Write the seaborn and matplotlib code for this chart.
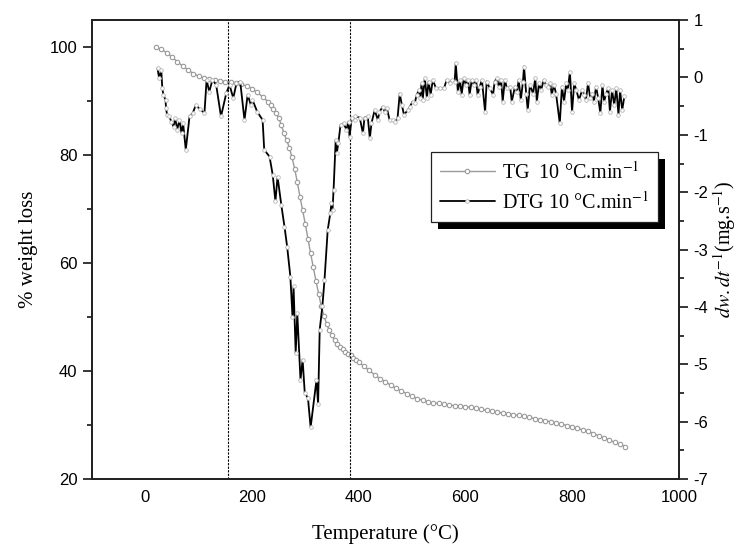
import numpy as np
import pandas as pd
import seaborn as sns
import matplotlib
matplotlib.use('Agg')
import matplotlib.pyplot as plt
from matplotlib.patches import Rectangle
from matplotlib.transforms import IdentityTransform
from matplotlib.ticker import MultipleLocator

# --- TG data (% weight loss) ---
tg_temp = list(range(20, 231, 10)) + list(range(235, 401, 5)) + list(range(410, 901, 10))
tg_loss = [100.0, 99.6, 99.0, 98.2, 97.3, 96.5, 95.8, 95.1, 94.6, 94.3, 94.1,
           93.9, 93.8, 93.6, 93.5, 93.3, 93.1, 92.8, 92.3, 91.6, 90.8, 89.9,
           89.3, 88.5, 87.8, 86.9, 85.6, 84.0, 82.8, 81.4, 79.6, 77.5, 75.0,
           72.3, 69.8, 67.2, 64.5, 61.8, 59.2, 56.7, 54.3, 52.0, 50.2, 48.7,
           47.6, 46.6, 45.8, 45.0, 44.5, 44.0, 43.6, 43.2, 42.9, 42.5, 42.0, 41.6,
           40.9, 40.1, 39.3, 38.6, 38.0, 37.4, 36.8, 36.3, 35.8, 35.3,
           34.9, 34.6, 34.3, 34.1, 34.0, 33.8, 33.7, 33.6, 33.5, 33.4,
           33.3, 33.1, 32.9, 32.7, 32.6, 32.4, 32.2, 32.1, 31.9, 31.8,
           31.6, 31.4, 31.2, 31.0, 30.8, 30.6, 30.4, 30.2, 29.9, 29.7,
           29.4, 29.1, 28.8, 28.4, 28.0, 27.6, 27.2, 26.8, 26.4, 26.0]

# --- DTG data (mg/s) ---
dtg_temp = [23, 26, 30, 32, 34, 38, 39, 41, 45, 49, 53, 56, 60, 64, 68, 71, 76, 83, 89, 95,
            102, 111, 115, 120, 126, 133, 142, 152, 158, 165, 171, 178, 186, 192, 198,
            201, 210, 220, 223, 233, 239, 244, 248, 255, 261, 266, 272, 276, 278, 282,
            285, 291, 295, 299, 305, 310, 321, 324, 327, 332, 336, 342, 347, 349, 351,
            353, 357, 359, 362, 366, 372, 377, 381, 383, 387, 393,
            394, 402, 408, 411, 417, 421, 424, 430, 436, 439, 445, 449, 453, 458, 464,
            469, 473, 477, 481, 485, 492, 496, 501, 505, 509, 513, 515, 518, 520, 524,
            528, 531, 535, 539, 545, 552, 560, 565, 571, 575, 580, 582, 586, 590, 593,
            597, 601, 605, 608, 612, 616, 620, 623,
            627, 631, 637, 640, 646, 652, 655, 659, 663, 667, 670, 674, 678, 684, 687,
            693, 697, 700, 704, 708, 710, 714, 717, 721, 727, 731, 734, 738, 742, 747,
            751, 755, 759, 762, 766, 770, 777, 781, 785, 789, 792, 796, 800, 804, 808,
            813, 819, 823, 826, 830, 834, 838, 841, 845, 849, 853, 857, 860, 864, 868,
            871, 875, 879, 883, 887, 890, 894, 898]
dtg_rate = [0.16, -0.01, 0.13, -0.19, -0.30, -0.39, -0.54, -0.65, -0.68, -0.77, -0.86, -0.71,
            -0.91, -0.74, -0.97, -0.80, -1.26, -0.68, -0.62, -0.48, -0.55, -0.62, -0.04,
            -0.25, -0.04, -0.13, -0.68, -0.27, -0.13, -0.36, -0.10, -0.07, -0.74, -0.30, -0.48,
            -0.39, -0.60, -0.74, -1.26, -1.38, -1.70, -2.16, -1.73, -2.22, -2.60, -2.95,
            -3.47, -4.17, -3.64, -4.80, -4.11, -5.27, -4.92, -5.50, -5.59, -6.10, -5.27,
            -5.70, -4.40, -3.99, -3.53, -2.66, -2.36, -2.19, -2.31, -1.96, -1.09, -1.32,
            -1.14, -0.83, -0.80, -0.91, -0.77, -1.03, -0.71, -0.74,
            -0.68, -0.70, -0.97, -0.70, -0.68, -1.06, -0.80, -0.57, -0.74, -0.60, -0.51,
            -0.60, -0.54, -0.74, -0.74, -0.77, -0.70, -0.28, -0.48, -0.65, -0.57, -0.51,
            -0.42, -0.45, -0.30, -0.22, -0.36, -0.10, -0.39, -0.01, -0.36, -0.07, -0.30,
            -0.04, -0.19, -0.19, -0.19, -0.04, -0.10, -0.04, -0.07, 0.25, -0.25, -0.04,
            -0.30, -0.01, -0.13, -0.04, -0.30, -0.04, -0.13, -0.04, -0.30,
            -0.16, -0.04, -0.60, -0.07, -0.19, -0.30, -0.07, -0.01, -0.16, -0.04, -0.42,
            -0.04, -0.19, -0.16, -0.42, -0.16, -0.25, -0.04, -0.39, -0.07, 0.19, -0.28,
            -0.57, -0.13, -0.28, -0.01, -0.42, -0.10, -0.22, -0.04, -0.13, -0.16, -0.10,
            -0.30, -0.13, -0.28, -0.80, -0.16, -0.42, -0.10, -0.22, 0.10, -0.60, -0.10,
            -0.22, -0.39, -0.22, -0.30, -0.39, -0.10, -0.36, -0.28, -0.42, -0.16, -0.36,
            -0.62, -0.13, -0.42, -0.28, -0.19, -0.60, -0.22, -0.48, -0.19, -0.65, -0.22,
            -0.57, -0.33]

# stage boundaries (dashed lines)
stage_temps = [155, 383]

x_ticks = [0, 200, 400, 600, 800, 1000]
tg_label = 'TG  10 °C.min$^{-1}$'
dtg_label = 'DTG 10 °C.min$^{-1}$'

# --- style ---
sns.set_style('ticks')
plt.rcParams['font.family'] = ['Liberation Sans', 'DejaVu Sans']
plt.rcParams['mathtext.fontset'] = 'stix'
plt.rcParams['axes.unicode_minus'] = False
plt.rcParams['text.color'] = 'black'
plt.rcParams['axes.labelcolor'] = 'black'
plt.rcParams['xtick.color'] = 'black'
plt.rcParams['ytick.color'] = 'black'
serif = ['Liberation Serif', 'DejaVu Serif']

fig, ax = plt.subplots(figsize=(7.41, 5.44), dpi=100)
fig.subplots_adjust(left=0.124, right=0.916, top=0.963, bottom=0.1195)
ax2 = ax.twinx()

sns.lineplot(x=tg_temp, y=tg_loss, ax=ax, color='#9a9a9a', lw=1.0, marker='o',
             markersize=3.2, markerfacecolor='white', markeredgecolor='#9a9a9a',
             markeredgewidth=0.8, legend=False)
sns.lineplot(x=dtg_temp, y=dtg_rate, ax=ax2, color='black', lw=1.3, marker='o',
             markersize=2.6, markerfacecolor='white', markeredgecolor='#b5b5b5',
             markeredgewidth=0.6, legend=False)

for t in stage_temps:
    ax.axvline(t, color='black', lw=0.8, ls=(0, (2, 1.2)))

ax.set_xlim(-100, 1000)
ax.set_ylim(20, 105)
ax2.set_ylim(-7, 1)
ax.set_xticks(x_ticks)
ax.yaxis.set_major_locator(MultipleLocator(20))
ax.yaxis.set_minor_locator(MultipleLocator(10))
ax2.yaxis.set_major_locator(MultipleLocator(1))
ax2.yaxis.set_minor_locator(MultipleLocator(0.5))

for a in (ax, ax2):
    for s in a.spines.values():
        s.set_linewidth(1.3)
        s.set_color('#222222')
    a.tick_params(axis='y', which='major', length=6.5, width=1.1, labelsize=12, pad=4)
    a.tick_params(axis='y', which='minor', length=3.6, width=1.1)
ax.tick_params(axis='x', length=0, labelsize=12, pad=8)

ax.set_xlabel('Temperature (°C)', family=serif, fontsize=15, labelpad=14)
ax.set_ylabel('% weight loss', family=serif, fontsize=15, labelpad=8)
ax2.set_ylabel(r'$dw.dt^{-1}$(mg.s$^{-1}$)', family=serif, fontsize=14.5, labelpad=2)

handles = [ax.lines[0], ax2.lines[0]]
leg = ax2.legend(handles, [tg_label, dtg_label], loc='upper left',
                 bbox_to_anchor=(0.578, 0.712), borderaxespad=0, frameon=True,
                 fancybox=False, prop={'family': serif, 'size': 14.5},
                 handlelength=2.7, handletextpad=0.35, labelspacing=0.4,
                 borderpad=0.45, numpoints=1, markerscale=1.0)
leg.get_frame().set_edgecolor('#222222')
leg.get_frame().set_linewidth(0.9)
leg.get_frame().set_alpha(1)

# black drop shadow behind the legend box
fig.canvas.draw()
bb = leg.get_window_extent()
shadow = Rectangle((bb.x0 + 7, bb.y0 - 7), bb.width, bb.height, facecolor='black',
                   edgecolor='none', transform=IdentityTransform(), zorder=4.9,
                   clip_on=False)
ax2.add_artist(shadow)

fig.savefig('out.png', dpi=100)
